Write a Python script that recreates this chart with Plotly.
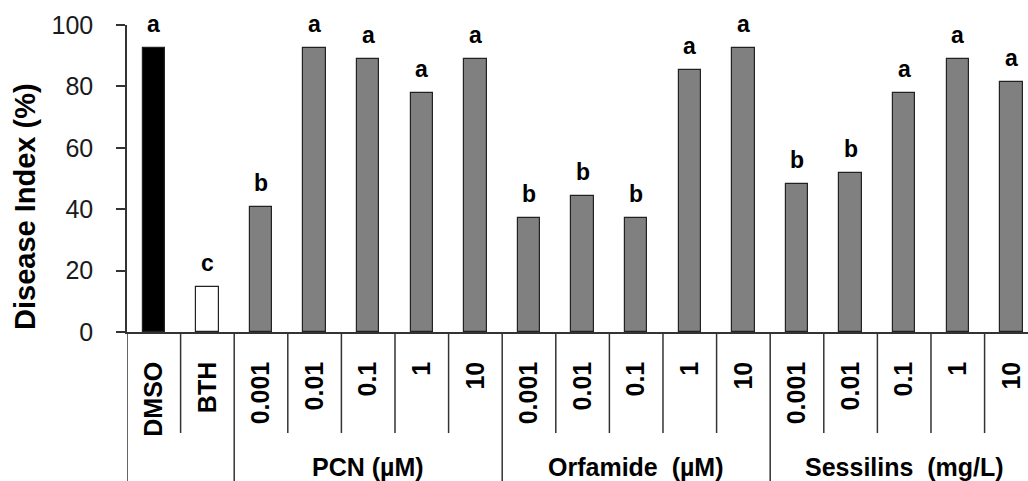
import plotly.graph_objects as go

# Treatments along the category axis (labels repeat across groups, so positions are numeric)
tick_labels = ["DMSO", "BTH",
               "0.001", "0.01", "0.1", "1", "10",
               "0.001", "0.01", "0.1", "1", "10",
               "0.001", "0.01", "0.1", "1", "10"]
disease_index = [92.6, 14.8,
                 40.7, 92.6, 88.9, 77.8, 88.9,
                 37.0, 44.4, 37.0, 85.2, 92.6,
                 48.1, 51.9, 77.8, 88.9, 81.5]
letters = ["a", "c",
           "b", "a", "a", "a", "a",
           "b", "b", "b", "a", "a",
           "b", "b", "a", "a", "a"]
bar_colors = ["#000000", "#ffffff"] + ["#808080"] * 15

# Compound groups: (label, first index, last index)
groups = [("PCN (\u00b5M)", 2, 6),
          ("Orfamide\u00a0 (\u00b5M)", 7, 11),
          ("Sessilins\u00a0 (mg/L)", 12, 16)]

positions = list(range(len(tick_labels)))

FONT = "Liberation Sans, Arial, sans-serif"
LINE = "#333333"

fig = go.Figure()
fig.add_trace(go.Bar(
    x=positions,
    y=disease_index,
    width=0.42,
    marker=dict(color=bar_colors, line=dict(color="#222222", width=1.2)),
    showlegend=False,
    hoverinfo="x+y",
))

# Significance letters above each bar
for i, (v, t) in enumerate(zip(disease_index, letters)):
    fig.add_annotation(x=i, y=v, text=t, showarrow=False, xref="x", yref="y",
                       yanchor="bottom", yshift=9,
                       font=dict(family=FONT, size=23, color="#000000", weight="bold"))

# Separators below the category axis: short between doses, full between groups
plot_w = 1028 - 127
plot_h = 481 - 25 - 149
short_end = -(433 - 332) / plot_h
full_end = -(481 - 332) / plot_h - 0.05
group_edges = {0, 2, 7, 12, 17}
shapes = []
for k in range(len(tick_labels) + 1):
    shapes.append(dict(type="line", xref="x", yref="paper",
                       x0=k - 0.5, x1=k - 0.5, y0=0,
                       y1=full_end if k in group_edges else short_end,
                       line=dict(color=LINE, width=1.5)))

# Group names centred under their dose columns
for name, a, b in groups:
    fig.add_annotation(x=(a + b) / 2, y=-(467 - 332) / plot_h, xref="x", yref="paper",
                       text=name, showarrow=False, yanchor="middle",
                       font=dict(family=FONT, size=25, color="#000000", weight="bold"))

# Y-axis title, placed a little below the axis midpoint
fig.add_annotation(x=(25 - 127) / plot_w, y=(332 - 207) / plot_h, xref="paper", yref="paper",
                   text="Disease Index (%)", textangle=-90, showarrow=False,
                   xanchor="center", yanchor="middle",
                   font=dict(family=FONT, size=29, color="#000000", weight="bold"))

fig.update_layout(
    width=1028, height=481,
    margin=dict(l=127, r=0, t=25, b=149),
    paper_bgcolor="white", plot_bgcolor="white",
    shapes=shapes,
    bargap=0,
    font=dict(family=FONT, color="#000000"),
    xaxis=dict(
        range=[-0.5, 16.31],
        tickmode="array", tickvals=positions, ticktext=tick_labels,
        tickangle=-90, ticks="", ticklabelstandoff=18,
        tickfont=dict(family=FONT, size=25, color="#000000", weight="bold"),
        showline=True, linecolor=LINE, linewidth=1.5,
        showgrid=False, zeroline=False, fixedrange=True,
    ),
    yaxis=dict(
        range=[0, 100], tickvals=[0, 20, 40, 60, 80, 100],
        ticks="outside", ticklen=9, tickwidth=1.5, tickcolor=LINE,
        ticklabelstandoff=18,
        tickfont=dict(family=FONT, size=25, color="#1a1a1a"),
        showline=True, linecolor=LINE, linewidth=1.5,
        showgrid=False, zeroline=False,
    ),
)

fig.write_html("out.html")
